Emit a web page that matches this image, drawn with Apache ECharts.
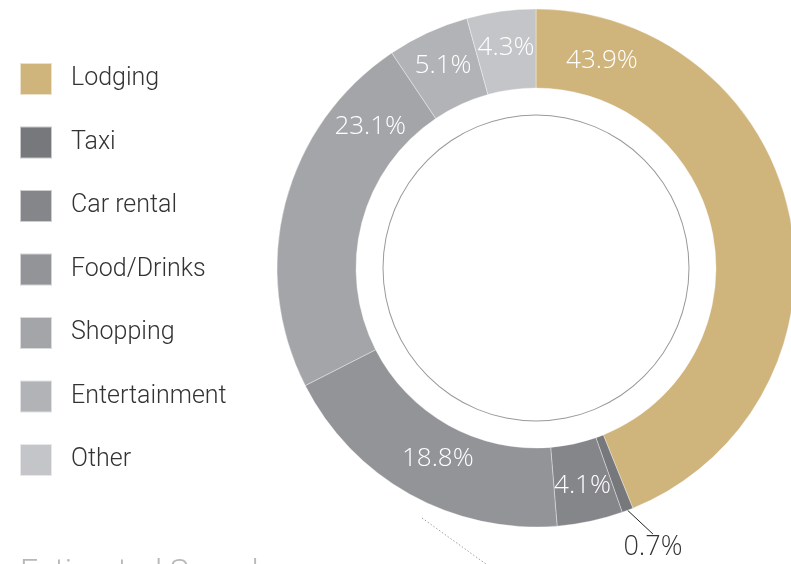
<!DOCTYPE html>
<html lang="en">
<head>
    <meta charset="UTF-8">
    <title>Spend by category</title>
    <script src="https://cdn.jsdelivr.net/npm/echarts@6/dist/echarts.min.js"></script>
    <style>
        html, body { margin: 0; padding: 0; background: #fff; }
    </style>
</head>
<body>
<div id="spend" style="width: 791px;height:564px;"></div>
<script>

    // share of spend, percent
    const categories = ['Lodging', 'Taxi', 'Car rental', 'Food/Drinks', 'Shopping', 'Entertainment', 'Other'];
    const shares = [43.9, 0.7, 4.1, 18.8, 23.1, 5.1, 4.3];
    const colors = ['#cfb47b', '#77787c', '#85868a', '#939498', '#a4a5a9', '#b2b3b7', '#c4c5c8'];

    const cx = 536, cy = 268;
    // labels that sit away from the slice middle: angle from top (deg), radius (px)
    const movedLabels = {
        0: [17.6, 218],
        1: [157.3, 303],
        3: [207.3, 214],
        4: [-49.5, 218]
    };

    let chart = echarts.init(document.getElementById('spend'));

    const pieData = categories.map((name, i) => {
        const item = {name: name, value: shares[i], itemStyle: {color: colors[i]}};
        if (name === 'Taxi') {
            item.label = {position: 'outside', color: '#333', fontSize: 27};
            item.labelLine = {show: true, length: 20, length2: 0, smooth: false,
                lineStyle: {color: '#222', width: 1}};
        }
        return item;
    });

    chart.setOption({
        animation: false,
        title: {
            text: 'Estimated Spend',
            left: 15,
            top: 552,
            textStyle: {
                fontFamily: 'Roboto',
                fontWeight: 300,
                fontSize: 32,
                color: '#b8b8b8'
            }
        },
        legend: {
            orient: 'vertical',
            left: 14,
            top: 57,
            icon: 'rect',
            itemWidth: 32,
            itemHeight: 32,
            itemGap: 29.5,
            selectedMode: false,
            data: categories,
            textStyle: {
                fontFamily: 'Roboto',
                fontWeight: 300,
                fontSize: 25,
                lineHeight: 32,
                color: '#333',
                padding: [0, 0, 0, 14]
            }
        },
        series: [{
            type: 'pie',
            center: [cx, cy],
            radius: [180, 259],
            startAngle: 90,
            clockwise: true,
            silent: true,
            itemStyle: {
                borderColor: 'rgba(255,255,255,0.6)',
                borderWidth: 0.6
            },
            label: {
                show: true,
                position: 'inside',
                formatter: p => p.value.toFixed(1) + '%',
                color: '#fff',
                fontFamily: 'Open Sans',
                fontWeight: 300,
                fontSize: 26
            },
            labelLine: {show: false},
            labelLayout: function (params) {
                const m = movedLabels[params.dataIndex];
                if (!m) return {};
                const a = m[0] * Math.PI / 180;
                return {
                    x: cx + m[1] * Math.sin(a),
                    y: cy - m[1] * Math.cos(a),
                    align: 'center',
                    verticalAlign: 'middle'
                };
            },
            data: pieData
        }, {
            // thin ring inside the donut
            type: 'pie',
            center: [cx, cy],
            radius: [152.5, 153.5],
            silent: true,
            label: {show: false},
            labelLine: {show: false},
            itemStyle: {color: '#9a9a9a'},
            data: [{value: 1, name: 'ring'}]
        }],
        graphic: [{
            type: 'line',
            silent: true,
            shape: {x1: 422, y1: 518, x2: 486, y2: 564},
            style: {stroke: '#a0a0a0', lineWidth: 1, lineDash: [1.5, 2]}
        }]
    });

</script>
</body>
</html>
